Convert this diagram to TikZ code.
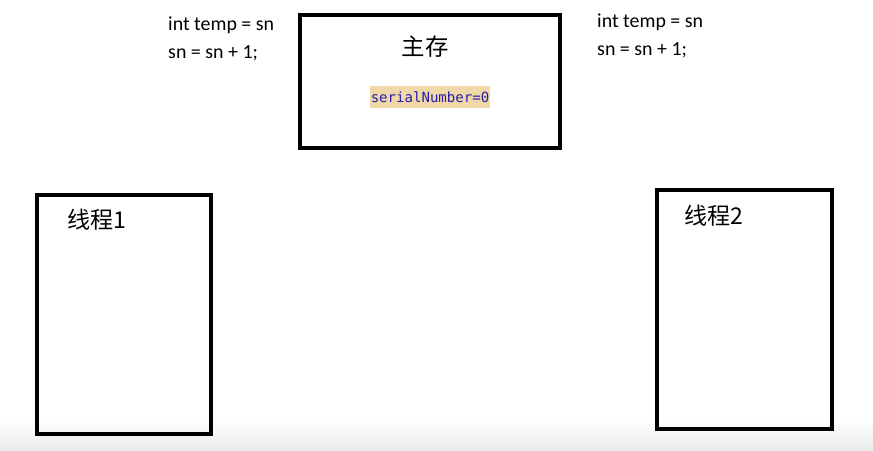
\documentclass[tikz,border=0pt]{standalone}
\usepackage{fontspec}
\usepackage{tikz}
\setmainfont{Carlito}
\newfontfamily\cjk{Noto Sans CJK SC}
\newfontfamily\codefont{DejaVu Sans Mono}
\definecolor{codebg}{RGB}{240,216,168}
\definecolor{codeblue}{RGB}{40,30,170}

\begin{document}
\begin{tikzpicture}[x=0.03cm,y=-0.03cm]
    \tikzstyle{boite}=[draw,line width=3.4pt,inner sep=0pt]
    \tikzstyle{code}=[anchor=west,inner sep=0pt,font=\fontsize{17}{19}\selectfont]
    \tikzstyle{titre}=[inner sep=0pt,font=\cjk\fontsize{19.7}{22}\selectfont]
  \useasboundingbox (0,0) rectangle (873,451);
  \shade[top color=white,bottom color=black!8] (0,420) rectangle (873,451);
  \node[boite,minimum width=7.8cm,minimum height=3.99cm] (memoire) at (430,81.5) {};
  \node[boite,minimum width=5.22cm,minimum height=7.17cm] (fil1) at (124,314.5) {};
  \node[boite,minimum width=5.25cm,minimum height=7.17cm] (fil2) at (744.5,309.5) {};
  \node[titre,font=\cjk\fontsize{20}{22}\selectfont] (titremem) at (425,47) {主存};
  \node[fill=codebg,text=codeblue,inner xsep=1pt,inner ysep=0pt,minimum height=0.66cm,
        font=\codefont\fontsize{12}{14}\selectfont] (sn) at (430,97) {serialNumber=0};
  \node[titre,anchor=west] (titre1) at (67,220) {线程1};
  \node[titre,anchor=west] (titre2) at (684,216) {线程2};
  \node[code] (tempa) at (168,25) {int temp = sn};
  \node[code] (incra) at (168,53) {sn = sn + 1;};
  \node[code] (tempb) at (597,22) {int temp = sn};
  \node[code] (incrb) at (597,50) {sn = sn + 1;};
\end{tikzpicture}
\end{document}
